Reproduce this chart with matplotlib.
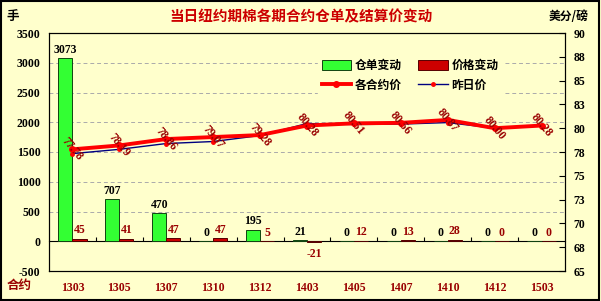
import matplotlib
matplotlib.use("Agg")
import matplotlib.pyplot as plt
from matplotlib.patches import Patch, Rectangle
from matplotlib.lines import Line2D
import numpy as np

plt.rcParams['font.family'] = ['Liberation Serif', 'Noto Sans CJK SC', 'DejaVu Sans']

contracts = ["1303", "1305", "1307", "1310", "1312", "1403", "1405", "1407", "1410", "1412", "1503"]
receipt_change = [3073, 707, 470, 0, 195, 21, 0, 0, 0, 0, 0]
price_change = [45, 41, 47, 47, 5, -21, 12, 13, 28, 0, 0]
settle_price = [77.78, 78.19, 78.86, 79.07, 79.28, 80.28, 80.51, 80.56, 80.87, 80.00, 80.28]
prev_price = [77.33, 77.78, 78.39, 78.60, 79.23, 80.49, 80.39, 80.43, 80.59, 80.00, 80.28]
left_ticks = [-500, 0, 500, 1000, 1500, 2000, 2500, 3000, 3500]
right_ticks = [65, 67.5, 70, 72.5, 75, 77.5, 80, 82.5, 85, 87.5, 90]
right_tick_labels = ["65", "68", "70", "73", "75", "78", "80", "83", "85", "88", "90"]

BG = "#FFFFCC"
DARKRED = "#990000"
CJK = ['Noto Sans CJK SC', 'DejaVu Sans']

fig = plt.figure(figsize=(6.01, 3.01), dpi=100, facecolor=BG)
ax = fig.add_axes([49/601, 1-271/301, (565-49)/601, (271-33)/301])
ax.set_facecolor(BG)
ax2 = ax.twinx()

x = np.arange(len(contracts))
w = 0.3
ax.bar(x - w/2, receipt_change, width=w, color="#33FF33", edgecolor="#114411", linewidth=0.7, zorder=3)
ax.bar(x + w/2, price_change, width=w, color="#CC0000", edgecolor="#550000", linewidth=0.7, zorder=3)

ax.set_xlim(-0.5, len(contracts) - 0.5)
ax.set_ylim(-500, 3500)
ax.set_yticks(left_ticks)
ax.set_yticklabels([str(t) for t in left_ticks], fontsize=8.5, fontweight='bold')
ax.tick_params(axis='y', length=0, pad=6)
for t in left_ticks:
    if 0 < t < 3500:
        ax.axhline(t, color="#AAAAAA", linestyle=(0, (4, 3)), linewidth=0.7, zorder=1)

ax.set_xticks([])
for sp in ax.spines.values():
    sp.set_color("black")
    sp.set_linewidth(0.8)

# zero axis with category boundary ticks
sec = ax.secondary_xaxis(500/4000)
sec.set_xticks(np.arange(0.5, len(contracts) - 0.5, 1.0))
sec.set_xticklabels([])
sec.tick_params(direction='in', length=3, width=0.8, color='black')
sec.spines['bottom'].set_linewidth(0.8)

for i, c in enumerate(contracts):
    ax.text(i, -0.07, c, transform=ax.get_xaxis_transform(), ha='center', va='center',
            fontsize=8.5, fontweight='bold', color=DARKRED)

# bar labels
for i, v in enumerate(receipt_change):
    ax.text(i - w/2, v + 40, str(v), ha='center', va='bottom', fontsize=8.5,
            fontweight='bold', color='black', zorder=5)
for i, v in enumerate(price_change):
    if v >= 0:
        ax.text(i + w/2, v + 40, str(v), ha='center', va='bottom', fontsize=8.5,
                fontweight='bold', color=DARKRED, zorder=5)
    else:
        ax.text(i + w/2, v - 100, str(v), ha='center', va='top', fontsize=8.5,
                fontweight='bold', color=DARKRED, zorder=5)

# right axis
ax2.set_ylim(65, 90)
ax2.set_yticks(right_ticks)
ax2.set_yticklabels(right_tick_labels, fontsize=8.5, fontweight='bold')
ax2.tick_params(axis='y', direction='in', length=4, width=0.8, pad=6)
for sp in ax2.spines.values():
    sp.set_color("black")
    sp.set_linewidth(0.8)

ax2.plot(x, prev_price, color="#000080", linewidth=1.0, marker='o', markersize=2.5,
         markerfacecolor='red', markeredgecolor='red', zorder=4)
ax2.plot(x, settle_price, color="#FF0000", linewidth=2.8, marker='o', markersize=4,
         markerfacecolor='red', markeredgecolor='red', zorder=5)
for i, v in enumerate(settle_price):
    ax2.text(i, v, f"{v:.2f}", rotation=-50, rotation_mode='anchor', ha='center', va='center',
             fontsize=8.5, fontweight='bold', color=DARKRED, zorder=6)

# legend
handles = [
    Patch(facecolor="#33FF33", edgecolor="#114411", linewidth=0.7),
    Line2D([], [], color="#FF0000", linewidth=2.8, marker='o', markersize=4),
    Patch(facecolor="#CC0000", edgecolor="#550000", linewidth=0.7),
    Line2D([], [], color="#000080", linewidth=1.0, marker='o', markersize=2.5,
           markerfacecolor='red', markeredgecolor='red'),
]
labels = ["仓单变动", "各合约价", "价格变动", "昨日价"]
leg = ax2.legend(handles, labels, ncol=2, loc='upper left', bbox_to_anchor=(0.51, 0.93),
                 frameon=True, facecolor=BG, edgecolor=BG, framealpha=1,
                 prop={'family': CJK, 'size': 8.5, 'weight': 'bold'},
                 handlelength=2.5, handleheight=0.9, columnspacing=1.4,
                 labelspacing=0.55, handletextpad=0.3, borderpad=0.3)
leg.set_zorder(10)

# titles and unit labels
fig.text(301/601, 1-16/301, "当日纽约期棉各期合约仓单及结算价变动", ha='center', va='center',
         fontsize=10.5, fontweight='bold', color="#CC0000", family=CJK)
fig.text(13/601, 1-16/301, "手", ha='center', va='center', fontsize=9,
         fontweight='bold', color='black', family=CJK)
fig.text(569/601, 1-16/301, "美分/磅", ha='center', va='center', fontsize=8.5,
         fontweight='bold', color='black', family=CJK)
fig.text(19/601, 1-285/301, "合约", ha='center', va='center', fontsize=9,
         fontweight='bold', color=DARKRED, family=CJK)

fig.patches.append(Rectangle((0.002, 0.003), 0.995, 0.994, transform=fig.transFigure,
                             fill=False, edgecolor='black', linewidth=1.5))

fig.savefig("out.png", dpi=100, facecolor=BG)
